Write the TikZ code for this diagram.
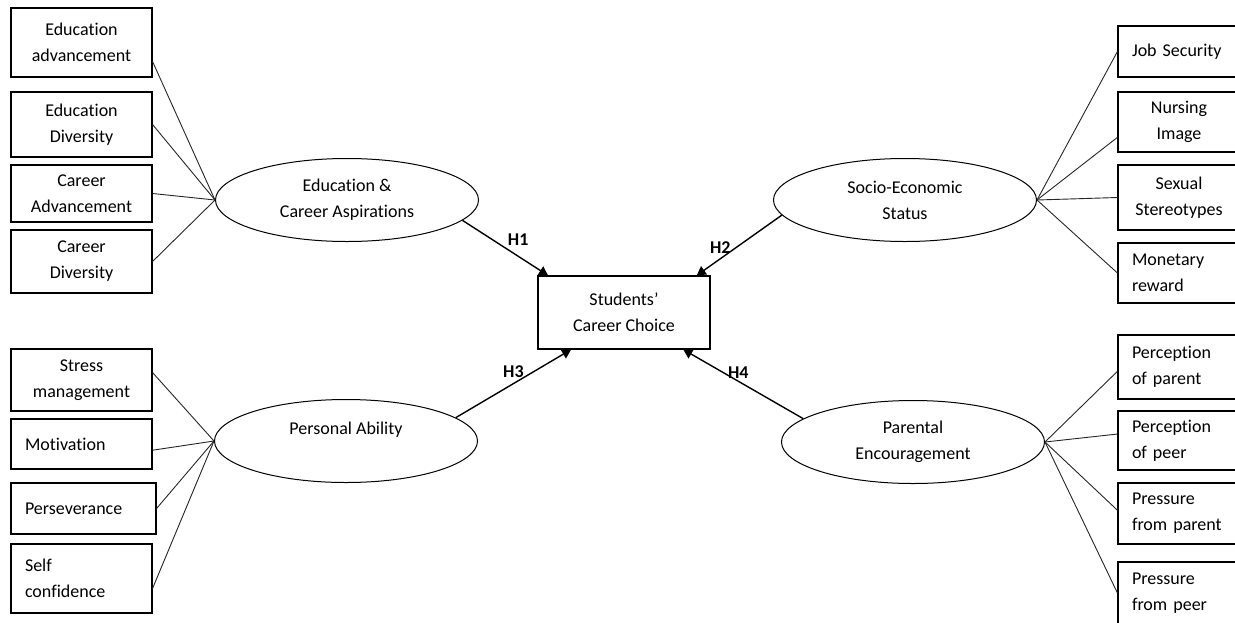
\documentclass[tikz,border=0pt]{standalone}
\usepackage{fontspec}
\setmainfont{Carlito}[Ligatures=NoCommon]
\usepackage{tikz}
\usetikzlibrary{shapes.geometric,arrows.meta}

\tikzset{
  ind/.style={draw, line width=1.1pt, minimum width=141pt, inner sep=0pt,
    font=\fontsize{18}{26}\selectfont},
  indc/.style={ind, align=center},
  indl/.style={ind, text width=113pt, align=left},
  indr/.style={minimum width=122pt, text width=94pt},
  latent/.style={draw, ellipse, line width=1pt, minimum width=263pt,
    minimum height=83pt, inner sep=0pt, align=center,
    font=\fontsize{18}{26}\selectfont},
  link/.style={line width=0.9pt, draw=black!85},
  hyp/.style={line width=1.4pt, -{Triangle[length=9pt,width=10pt]}},
  hlab/.style={font=\bfseries\fontsize{18}{22}\selectfont, inner sep=2pt}
}

\begin{document}
\begin{tikzpicture}[x=1pt,y=-1pt]
    \useasboundingbox (0,0) rectangle (1235,622);
    \clip (0,0) rectangle (1235,622);

    % Outcome
    \node[ind, align=center, minimum width=172pt, minimum height=73pt] (choice) at (624,312.5) {Students'\\Career Choice};

    % Latent factors
    \node[latent] (ecasp) at (347,200) {Education \&\\Career Aspirations};
    \node[latent] (socio) at (905,200) {Socio-Economic\\Status};
    \node[latent] (persab) at (346,441) {Personal Ability\\\mbox{}};
    \node[latent] (parenc) at (913,442) {Parental\\Encouragement};

    % Indicators, left
    \node[indc, minimum height=69pt] (eduadv) at (81.5,42.5) {Education\\advancement};
    \node[indc, minimum height=65pt] (edudiv) at (81.5,124.5) {Education\\Diversity};
    \node[indc, minimum height=57pt] (caradv) at (81.5,193.5) {Career\\Advancement};
    \node[indc, minimum height=63pt] (cardiv) at (81.5,261.5) {Career\\Diversity};
    \node[indc, minimum height=62pt] (stress) at (81.5,380) {Stress\\management};
    \node[indl, minimum height=50pt] (motiv) at (81.5,444) {Motivation};
    \node[indl, minimum height=51pt, minimum width=145pt, text width=117pt] (persev) at (83.5,508.5) {Perseverance};
    \node[indl, minimum height=69pt] (selfconf) at (81.5,578.5) {Self\\confidence};

    % Indicators, right
    \node[indl, indr, minimum height=51pt] (jobsec) at (1179,51.5) {Job Security};
    \node[indc, indr, minimum height=60pt] (nursimg) at (1179,122) {Nursing\\Image};
    \node[indc, indr, minimum height=65pt] (sexster) at (1179,197.5) {Sexual\\Stereotypes};
    \node[indl, indr, minimum height=60pt] (monrew) at (1179,273) {Monetary\\reward};
    \node[indl, indr, minimum height=64pt] (percpar) at (1179,367) {Perception\\of parent};
    \node[indl, indr, minimum height=59pt] (percpeer) at (1179,440.5) {Perception\\of peer};
    \node[indl, indr, minimum height=61pt] (prespar) at (1179,513.5) {Pressure\\from parent};
    \node[indl, indr, minimum height=62pt] (prespeer) at (1179,593) {Pressure\\from peer};

    % Loadings
    \draw[link] (eduadv.-15) -- (ecasp.west);
    \draw[link] (edudiv.east) -- (ecasp.west);
    \draw[link] (caradv.east) -- (ecasp.west);
    \draw[link] (cardiv.east) -- (ecasp.west);
    \draw[link] (stress.6) -- (persab.west);
    \draw[link] (motiv.-5) -- (persab.west);
    \draw[link] (persev.east) -- (persab.west);
    \draw[link] (selfconf.-8) -- (persab.west);
    \draw[link] (jobsec.west) -- (socio.east);
    \draw[link] (nursimg.194) -- (socio.east);
    \draw[link] (sexster.west) -- (socio.east);
    \draw[link] (monrew.west) -- (socio.east);
    \draw[link] (percpar.184) -- (parenc.east);
    \draw[link] (percpeer.174) -- (parenc.east);
    \draw[link] (prespar.177) -- (parenc.east);
    \draw[link] (prespeer.west) -- (parenc.east);

    % Hypotheses
    \draw[hyp] (ecasp.-10) -- node[hlab, midway, above right] {H1} (choice.154);
    \draw[hyp] (socio.187) -- node[hlab, midway, left=6pt, yshift=-2pt] {H2} (choice.27);
    \draw[hyp] (persab.12) -- node[hlab, midway, above, yshift=3pt] {H3} (choice.215);
    \draw[hyp] (parenc.168) -- node[hlab, midway, above, xshift=-5pt, yshift=3pt] {H4} (choice.-32);
\end{tikzpicture}
\end{document}
